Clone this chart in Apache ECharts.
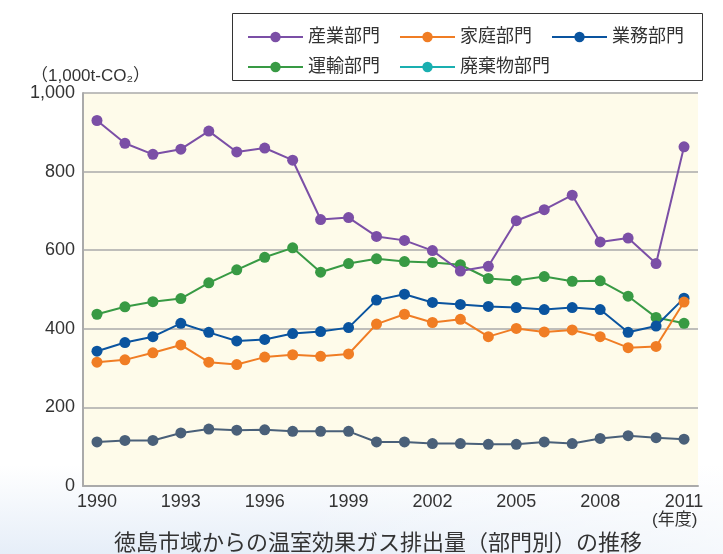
<!DOCTYPE html>
<html>
<head>
<meta charset="utf-8">
<script src="https://cdn.jsdelivr.net/npm/echarts@6/dist/echarts.min.js"></script>
<style>
  html, body { margin: 0; padding: 0; }
  body {
    width: 723px; height: 554px; overflow: hidden;
    background: linear-gradient(to bottom, #ffffff 0px, #ffffff 465px, #e6eef8 554px);
  }
  #fade {
    position: absolute; left: 0; top: 0; width: 723px; height: 554px;
    background: linear-gradient(to right, rgba(255,255,255,0) 0%, rgba(255,255,255,0) 40%, rgba(255,255,255,0.6) 100%);
  }
  #chart { position: absolute; left: 0; top: 0; width: 723px; height: 554px; }
</style>
</head>
<body>
<div id="fade"></div>
<div id="chart"></div>
<script>
// 年度
var years = ['1990','1991','1992','1993','1994','1995','1996','1997','1998','1999','2000',
             '2001','2002','2003','2004','2005','2006','2007','2008','2009','2010','2011'];
// 部門別排出量 (1,000t-CO2)
var sangyo  = [930, 872, 844, 857, 903, 850, 860, 829, 678, 683, 635, 625, 599, 547, 559, 675, 703, 740, 621, 631, 566, 863];
var katei   = [315, 321, 339, 359, 315, 309, 328, 334, 330, 336, 412, 437, 416, 424, 380, 401, 392, 397, 380, 352, 355, 468];
var gyomu   = [343, 365, 380, 414, 391, 369, 373, 388, 393, 403, 473, 488, 467, 462, 457, 454, 449, 454, 449, 391, 407, 478];
var unyu    = [437, 456, 469, 477, 517, 550, 582, 606, 544, 566, 578, 571, 569, 563, 528, 523, 533, 521, 522, 483, 429, 414];
var haikibutsu = [112, 116, 116, 135, 145, 142, 143, 139, 139, 139, 112, 112, 108, 108, 106, 106, 112, 108, 121, 128, 123, 119];

var names = ['産業部門', '家庭部門', '業務部門', '運輸部門', '廃棄物部門'];
var colors = ['#7b4fa6', '#f07d24', '#0a549f', '#389a44', '#4a6079'];
var values = [sangyo, katei, gyomu, unyu, haikibutsu];

var fontStack = '"Liberation Sans", "Noto Sans CJK JP", sans-serif';

var chart = echarts.init(document.getElementById('chart'));

var legendText = { fontSize: 18, color: '#333', fontFamily: fontStack };

var option = {
  animation: false,
  textStyle: { fontFamily: fontStack },
  grid: {
    left: 83, right: 25, top: 93, bottom: 68,
    show: true, backgroundColor: '#fefbea', borderWidth: 0
  },
  legend: [
    {
      left: 242, top: 23, itemWidth: 55, itemHeight: 13, itemGap: 19,
      textStyle: legendText,
      data: names.slice(0, 3)
    },
    {
      left: 242, top: 53, itemWidth: 55, itemHeight: 13, itemGap: 19,
      textStyle: legendText,
      data: [
        names[3],
        { name: names[4], itemStyle: { color: '#1aafb0' }, lineStyle: { color: '#1aafb0' } }
      ]
    }
  ],
  graphic: [
    {
      type: 'rect', left: 232, top: 13, z: -1,
      shape: { width: 470, height: 67 },
      style: { fill: '#fff', stroke: '#333', lineWidth: 1 }
    },
    {
      type: 'text', left: 31, top: 68,
      style: { text: '（1,000t-CO₂）', font: '17px ' + fontStack, fill: '#333' }
    },
    {
      type: 'text', left: 652, top: 512,
      style: { text: '(年度)', font: '17px ' + fontStack, fill: '#333' }
    },
    {
      type: 'text', left: 114, top: 533,
      style: { text: '徳島市域からの温室効果ガス排出量（部門別）の推移', font: '22px ' + fontStack, fill: '#333' }
    }
  ],
  xAxis: {
    type: 'category',
    data: years,
    boundaryGap: true,
    axisLine: { lineStyle: { color: '#aaa', width: 2 } },
    axisTick: { show: false },
    axisLabel: { interval: 2, fontSize: 18, color: '#333', margin: 7 }
  },
  yAxis: {
    type: 'value',
    min: 0, max: 1000, interval: 200,
    axisLine: { show: true, lineStyle: { color: '#aaa', width: 2 } },
    axisTick: { show: false },
    axisLabel: {
      fontSize: 18, color: '#333', margin: 8,
      formatter: function (v) { return v === 1000 ? '1,000' : String(v); }
    },
    splitLine: { lineStyle: { color: '#aaa', width: 1.5 } }
  },
  series: names.map(function (n, i) {
    return {
      name: n,
      type: 'line',
      data: values[i],
      symbol: 'circle',
      symbolSize: 11,
      color: colors[i],
      lineStyle: { width: 2, color: colors[i] },
      itemStyle: { color: colors[i] },
      z: 10 - i
    };
  })
};

chart.setOption(option);
</script>
</body>
</html>
